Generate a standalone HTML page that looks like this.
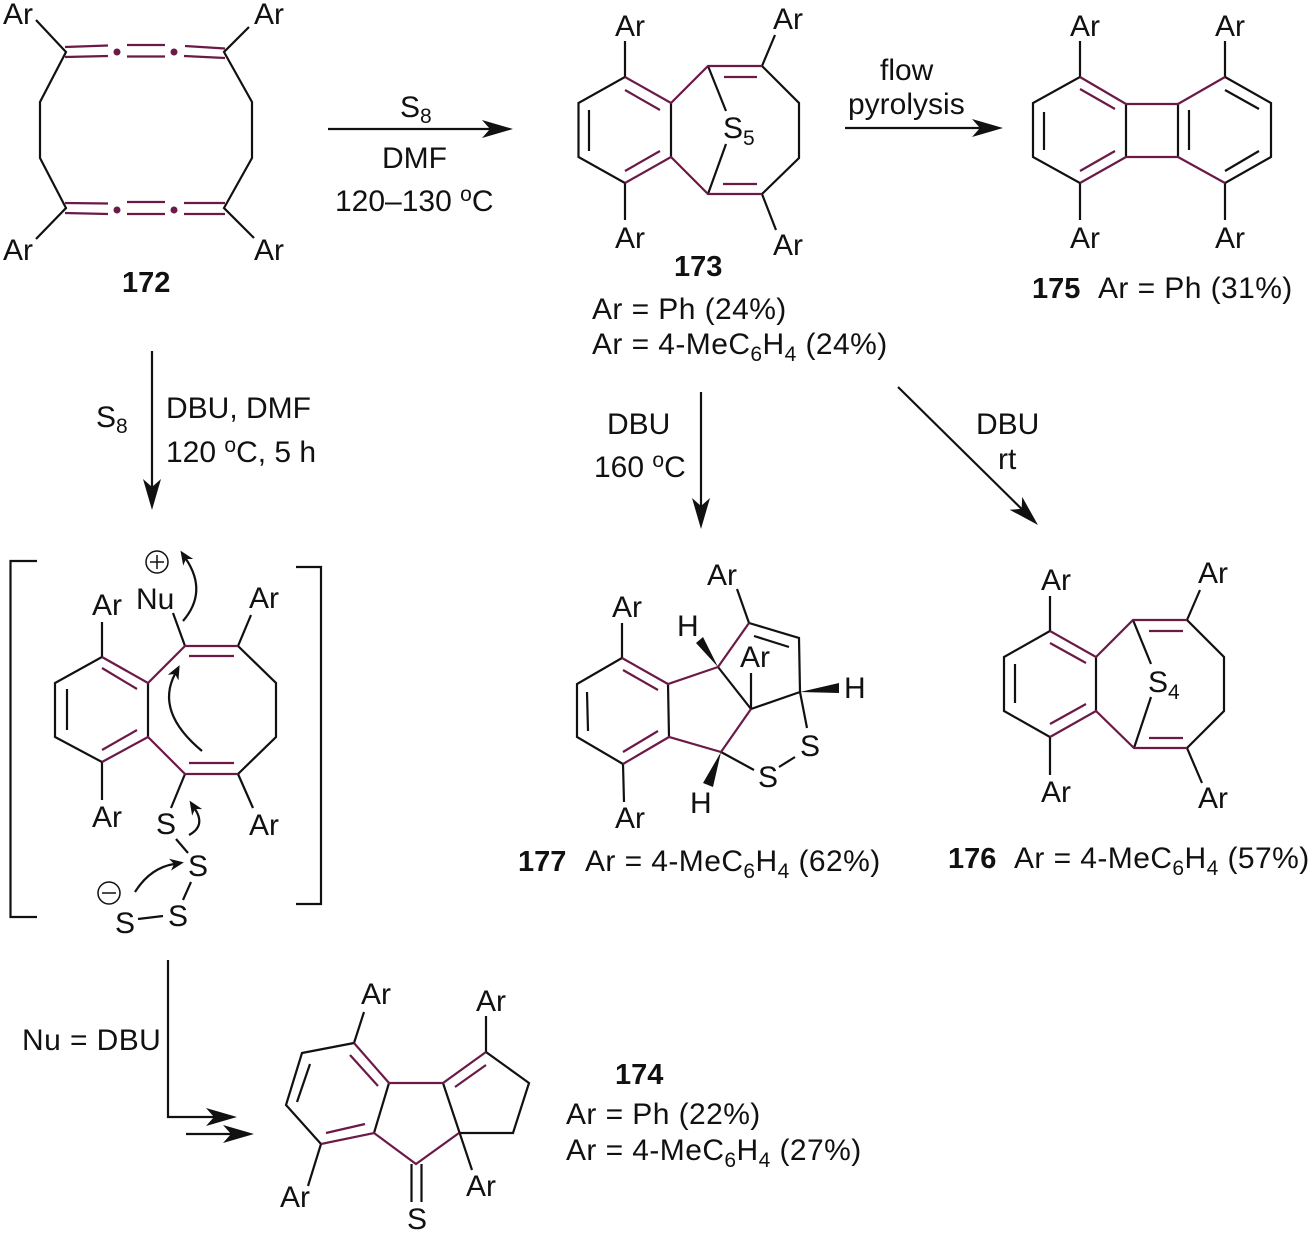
<!DOCTYPE html>
<html><head><meta charset="utf-8"><style>
html,body{margin:0;padding:0;background:#fff}
svg{display:block}
text{font-family:"Liberation Sans",sans-serif;font-size:30px;fill:#111}
.b{font-weight:bold;font-size:29px}
.s{font-size:21px}
.l{letter-spacing:.42px}
.k{fill:none;stroke:#111;stroke-width:2.2}
.p{fill:none;stroke:#6b1a47;stroke-width:2.2}
</style></head><body>
<svg width="1311" height="1234" viewBox="0 0 1311 1234" xmlns="http://www.w3.org/2000/svg">
<defs>
<marker id="big" markerUnits="userSpaceOnUse" markerWidth="34" markerHeight="20" refX="8" refY="9" orient="auto" overflow="visible"><path d="M0,0L31,9L0,18L8,9z" fill="#111"/></marker>
<marker id="sm" markerUnits="userSpaceOnUse" markerWidth="16" markerHeight="14" refX="4" refY="6" orient="auto" overflow="visible"><path d="M0,0L14,6L0,12L4,6z" fill="#111"/></marker>
</defs>

<!-- 172 -->
<path class="k" d="M36,20L66,52L40,102V158L66,208L36,239M249,27L224,52L252,102V158L224,208L254,238"/>
<path class="p" d="M65,47L108,45.5M65,57L108,56M127,45H165M127,56.5H165M185,46L225,48.5M184,56L225,58M65,203L108,203.5M65,213L108,214M127,202H165M127,214H165M184,203H225M184,214H225"/>
<g fill="#6b1a47"><circle cx="117" cy="52" r="3.5"/><circle cx="174" cy="52" r="3.5"/><circle cx="117" cy="210" r="3.5"/><circle cx="174" cy="210" r="3.5"/></g>
<text x="3" y="24">Ar</text><text x="254" y="24">Ar</text><text x="3" y="260">Ar</text><text x="254" y="260">Ar</text>
<text class="b" x="122" y="292">172</text>

<!-- arrow 172-173 -->
<path class="k" d="M328,129H490" marker-end="url(#big)"/>
<text x="400" y="117">S<tspan class="s" dy="6">8</tspan></text>
<text x="382" y="168">DMF</text>
<text x="335" y="211">120–130 <tspan class="s" dy="-10">o</tspan><tspan dy="10">C</tspan></text>

<!-- 173 -->
<path class="k" d="M625,41V77L578.5,103V157L625,183V220M671,103V157M589,110V151M762,66L799,103V158L762,194M762,66L775,35M762,194L776,230M708,66L726,111M708,194L726,144"/>
<path class="p" d="M625,77L671,103L708,66H762M625,183L671,157L708,194H762M625,90L660,110M625,171L660,151M724,77H757M723,184H757"/>
<text x="615" y="36">Ar</text><text x="773" y="29">Ar</text><text x="615" y="248">Ar</text><text x="773" y="255">Ar</text>
<text x="723" y="138">S<tspan class="s" dy="7">5</tspan></text>
<text class="b" x="674" y="276">173</text>
<text class="l" x="592" y="319">Ar = Ph (24%)</text>
<text class="l" x="592" y="354">Ar = 4-MeC<tspan class="s" dy="7">6</tspan><tspan dy="-7">H</tspan><tspan class="s" dy="7">4</tspan><tspan dy="-7"> (24%)</tspan></text>

<!-- arrow 173-175 -->
<path class="k" d="M845,128H980" marker-end="url(#big)"/>
<text x="880" y="80">flow</text><text x="848" y="114">pyrolysis</text>

<!-- 175 -->
<path class="k" d="M1080,41V77L1033,103V157L1080,183V220M1126,104V157M1178,104V157M1225,41V77L1271,103V157L1225,183V220M1044,112V150M1189,110V150M1225,90L1259,109M1225,171L1259,151"/>
<path class="p" d="M1080,77L1126,104H1178L1225,77M1080,183L1126,157H1178L1225,183M1080,89L1115,109M1080,171L1115,151"/>
<text x="1070" y="36">Ar</text><text x="1215" y="36">Ar</text><text x="1070" y="248">Ar</text><text x="1215" y="248">Ar</text>
<text class="b" x="1032" y="298">175</text><text class="l" x="1098" y="298">Ar = Ph (31%)</text>

<!-- arrow 172 down -->
<path class="k" d="M152,351V487" marker-end="url(#big)"/>
<text x="96" y="427">S<tspan class="s" dy="6">8</tspan></text>
<text x="166" y="418">DBU, DMF</text>
<text x="166" y="462">120 <tspan class="s" dy="-10">o</tspan><tspan dy="10">C, 5 h</tspan></text>

<!-- brackets -->
<path class="k" d="M37,561H10.5V917H37M296,567H321V904H296"/>

<!-- intermediate -->
<path class="k" d="M102,622V657L55,683V737L102,762V800M148,683V737M67,689V730M238,646L276,683V737L238,774M185,646L173,613M238,646L251,615M185,774L171,808M238,774L253,808M176,839L188,853M191,882L183,900M138,919L163,916"/>
<path class="p" d="M102,657L148,683L185,646H238M102,762L148,737L185,774H238M102,668L137,689M102,750L137,730M189,656H234M189,763H234"/>
<text x="92" y="615">Ar</text><text x="136" y="609">Nu</text><text x="249" y="608">Ar</text>
<text x="92" y="827">Ar</text><text x="249" y="835">Ar</text>
<text x="156" y="834">S</text><text x="188" y="876">S</text><text x="168" y="926">S</text><text x="115" y="933">S</text>
<g class="k" style="stroke-width:1.5"><circle cx="157" cy="562" r="11"/><path d="M150,562H164M157,555V569"/><circle cx="109" cy="893" r="11"/><path d="M102,893H116"/></g>
<path class="k" d="M183,621Q208,592 186,559" marker-end="url(#sm)"/>
<path class="k" d="M202,751Q155,712 175,674" marker-end="url(#sm)"/>
<path class="k" d="M189,835Q206,826 195,809" marker-end="url(#sm)"/>
<path class="k" d="M135,892Q150,868 174,864" marker-end="url(#sm)"/>

<!-- arrow 173-177 -->
<path class="k" d="M701,392V506" marker-end="url(#big)"/>
<text x="607" y="434">DBU</text>
<text x="594" y="477">160 <tspan class="s" dy="-10">o</tspan><tspan dy="10">C</tspan></text>

<!-- arrow 173-176 -->
<path class="k" d="M898,387L1021.6,508.9" marker-end="url(#big)"/>
<text x="976" y="434">DBU</text><text x="998" y="469">rt</text>

<!-- 177 -->
<path class="k" d="M622,623V658L577,684V737L623,764L624,802M668,684L669,737M587,692L588,731M718,667L751,709L800,692M749,623L799,638L800,692M751,709V673M749,623L737,589M754,636L789,647M721,752L754,770M779,767L795,757M800,692L807,728"/>
<path class="p" d="M622,658L668,684L718,667L749,623M623,764L669,737L721,752L751,709M623,670L658,690M623,752L658,731"/>
<polygon fill="#111" points="718,667 696,643 703,637"/>
<polygon fill="#111" points="800,692 839,683 839,693"/>
<polygon fill="#111" points="721,752 703,783 713,787"/>
<text x="612" y="617">Ar</text><text x="707" y="585">Ar</text><text x="740" y="667">Ar</text><text x="615" y="828">Ar</text>
<text x="677" y="636">H</text><text x="844" y="698">H</text><text x="690" y="813">H</text>
<text x="758" y="787">S</text><text x="800" y="756">S</text>
<text class="b" x="518" y="871">177</text>
<text class="l" x="585" y="871">Ar = 4-MeC<tspan class="s" dy="7">6</tspan><tspan dy="-7">H</tspan><tspan class="s" dy="7">4</tspan><tspan dy="-7"> (62%)</tspan></text>

<!-- 176 -->
<path class="k" d="M1050,596V631L1004,657V711L1050,737V775M1096,657V711M1015,664V703M1187,620L1224,657V711L1187,748M1187,620L1200,590M1187,748L1202,783M1133,620L1151,664M1134,748L1151,697"/>
<path class="p" d="M1050,631L1096,657L1133,620H1187M1050,737L1096,711L1134,748H1187M1050,643L1086,663M1050,724L1086,704M1149,631H1183M1149,738H1183"/>
<text x="1041" y="590">Ar</text><text x="1198" y="583">Ar</text><text x="1041" y="802">Ar</text><text x="1198" y="808">Ar</text>
<text x="1148" y="692">S<tspan class="s" dy="7">4</tspan></text>
<text class="b" x="948" y="868">176</text>
<text class="l" x="1014" y="868">Ar = 4-MeC<tspan class="s" dy="7">6</tspan><tspan dy="-7">H</tspan><tspan class="s" dy="7">4</tspan><tspan dy="-7"> (57%)</tspan></text>

<!-- arrow to 174 -->
<path class="k" d="M168,960V1117H214" marker-end="url(#big)"/>
<path class="k" d="M186,1134H231" marker-end="url(#big)"/>
<text x="22" y="1050" class="l">Nu = DBU</text>

<!-- 174 -->
<path class="k" d="M364,1012L354,1043L302,1053L286,1105L321,1144L308,1186M389,1083L374,1133M443,1083L472,1170M486,1016V1052L529,1083L513,1133H459M310,1064L297,1102M411.5,1164V1202M421.5,1164V1202"/>
<path class="p" d="M354,1043L389,1083H443L486,1052M321,1144L374,1133L416,1164L459,1133M350,1055L378,1086M326,1133L365,1124M455,1087L486,1065"/>
<text x="361" y="1004">Ar</text><text x="476" y="1011">Ar</text><text x="280" y="1207">Ar</text><text x="466" y="1196">Ar</text>
<text x="407" y="1229">S</text>
<text class="b" x="615" y="1084">174</text>
<text class="l" x="566" y="1124">Ar = Ph (22%)</text>
<text class="l" x="566" y="1160">Ar = 4-MeC<tspan class="s" dy="7">6</tspan><tspan dy="-7">H</tspan><tspan class="s" dy="7">4</tspan><tspan dy="-7"> (27%)</tspan></text>
</svg>
</body></html>
